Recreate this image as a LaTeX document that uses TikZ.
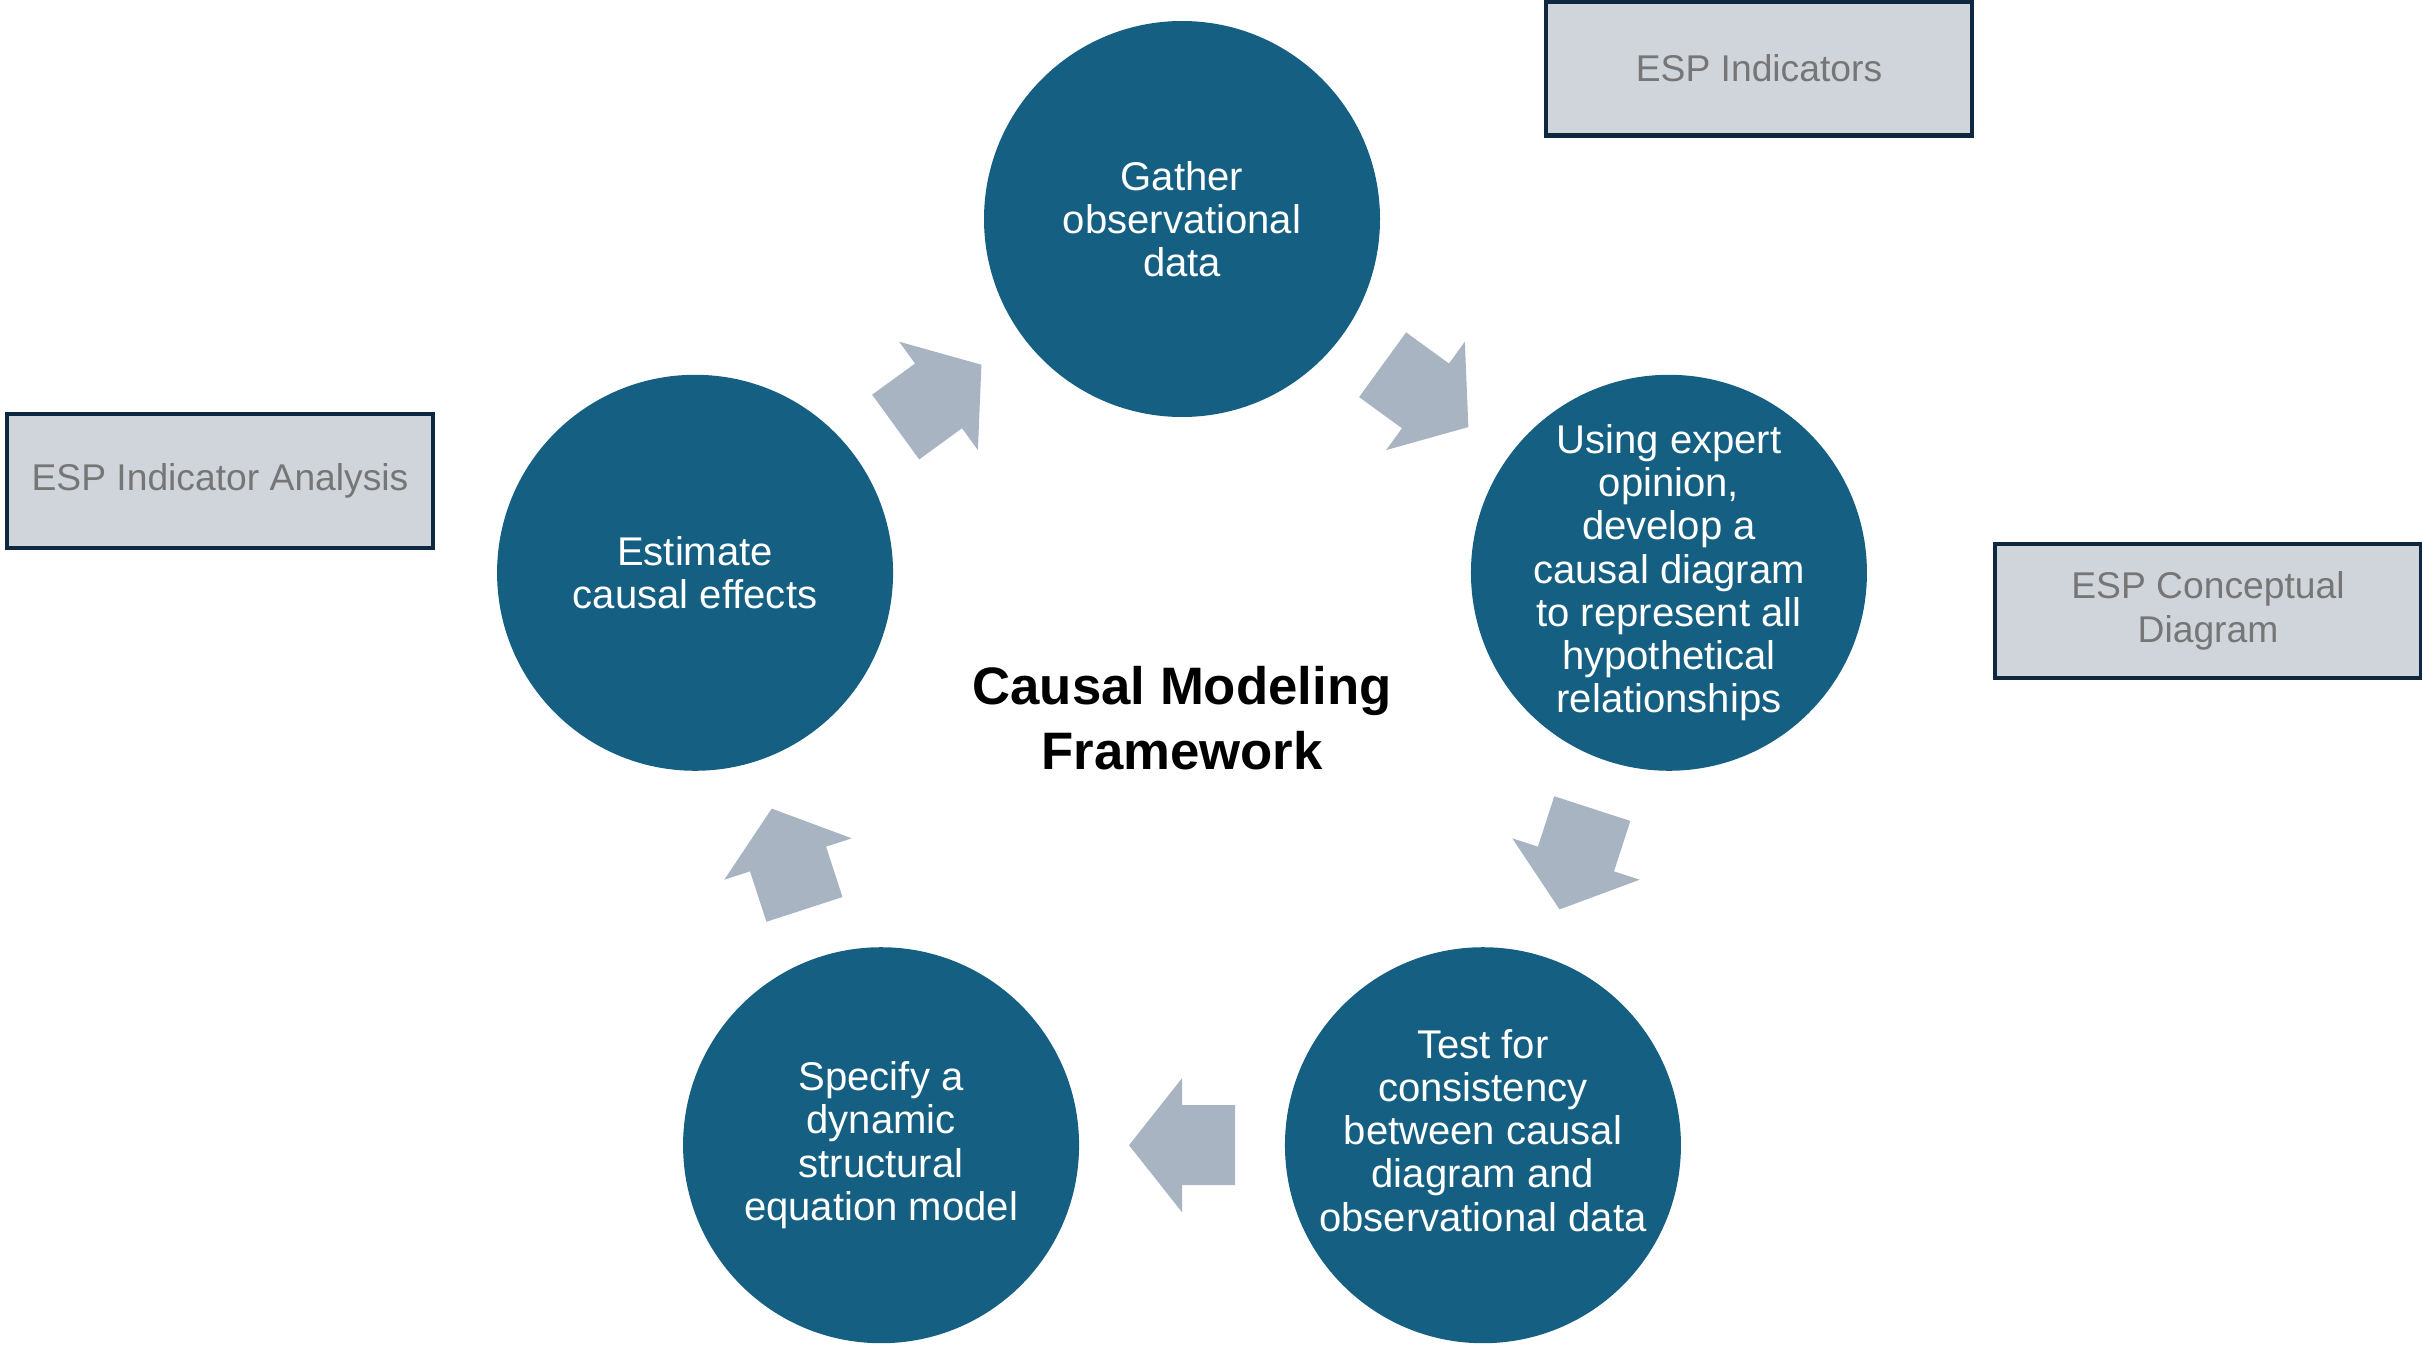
\documentclass[tikz,border=0pt]{standalone}
\usepackage{fontspec}
\setmainfont{Liberation Sans}
\usetikzlibrary{calc}

\definecolor{cycblue}{HTML}{156082}
\definecolor{arrowgrey}{HTML}{A8B4C1}
\definecolor{boxfill}{HTML}{D0D5DC}
\definecolor{boxline}{HTML}{0E2841}
\definecolor{boxtext}{HTML}{767676}

\tikzset{
  stage/.style={circle, fill=cycblue, text=white, minimum size=3.96cm, inner sep=-0.3cm,
    align=center, font=\fontsize{11.4}{12.3}\selectfont},
  esp/.style={rectangle, fill=boxfill, draw=boxline, line width=1.4pt, text=boxtext,
    minimum width=4.26cm, minimum height=1.34cm, align=center,
    font=\fontsize{10.6}{12.7}\selectfont},
  pics/cyclearrow/.style={code={
    \fill[arrowgrey] (-0.53,-0.40) -- (0,-0.40) -- (0,-0.67) -- (0.53,0)
      -- (0,0.67) -- (0,0.40) -- (-0.53,0.40) -- cycle;}}
}

\begin{document}
\begin{tikzpicture}
    \useasboundingbox (0,0) rectangle (24.22,13.44);
    \coordinate (cyc) at (11.82,6.13);

    % the five steps of the cycle
    \node [stage] (gather) at ($(cyc)+(90:5.12)$) {Gather\\observational\\data};
    \node [stage] (expert) at ($(cyc)+(18:5.12)$) {Using expert\\opinion,\\develop a\\causal diagram\\to represent all\\hypothetical\\relationships};
    \node [stage, text depth=0.3cm] (test) at ($(cyc)+(-54:5.12)$) {Test for\\consistency\\between causal\\diagram and\\observational data};
    \node [stage] (specify) at ($(cyc)+(-126:5.12)$) {Specify a\\dynamic\\structural\\equation model};
    \node [stage] (estimate) at ($(cyc)+(162:5.12)$) {Estimate\\causal effects};

    \node [align=center, font=\fontsize{15}{18.5}\selectfont\bfseries] (title) at (11.82,6.26)
      {Causal Modeling\\Framework};

    % arrows between the steps
    \foreach \a/\b/\r in {estimate/gather/36, gather/expert/-36, expert/test/-108,
                          test/specify/180, specify/estimate/108}
      \pic [rotate=\r] at ($(\a)!0.5!(\b)$) {cyclearrow};

    % ESP boxes
    \node [esp] (indicators) at (17.59,12.755) {ESP Indicators};
    \node [esp] (analysis) at (2.20,8.63) {ESP Indicator Analysis};
    \node [esp] (conceptual) at (22.08,7.33) {ESP Conceptual\\Diagram};
\end{tikzpicture}
\end{document}
